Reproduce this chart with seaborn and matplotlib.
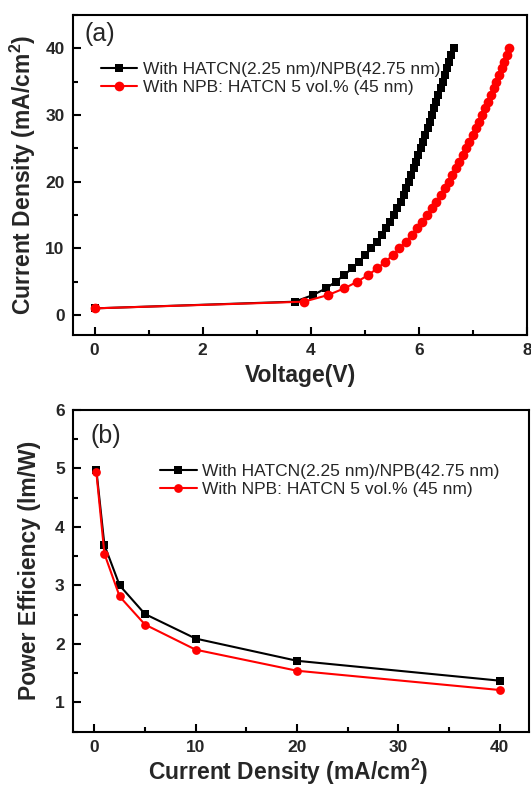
import matplotlib
matplotlib.use("Agg")
import matplotlib.pyplot as plt
import seaborn as sns
import numpy as np
import pandas as pd
from matplotlib.ticker import MultipleLocator

# ---------------- data ----------------
# (a) J-V curves: current density steps (mA/cm^2)
j_steps = list(range(1, 41))
v_hatcn_layer = [0.00, 3.70, 4.04, 4.28, 4.46, 4.62, 4.76, 4.89, 5.01, 5.12,
                 5.22, 5.31, 5.39, 5.465, 5.535, 5.60, 5.66, 5.715, 5.765, 5.81,
                 5.857, 5.903, 5.948, 5.992, 6.035, 6.077, 6.118, 6.159, 6.199, 6.239,
                 6.28, 6.32, 6.36, 6.40, 6.44, 6.48, 6.52, 6.56, 6.60, 6.64]
v_doped = [0.00, 3.87, 4.32, 4.62, 4.86, 5.06, 5.23, 5.38, 5.52, 5.64,
           5.755, 5.865, 5.965, 6.06, 6.15, 6.24, 6.325, 6.405, 6.48, 6.55,
           6.618, 6.684, 6.748, 6.811, 6.873, 6.934, 6.994, 7.053, 7.112, 7.17,
           7.225, 7.278, 7.33, 7.381, 7.431, 7.48, 7.528, 7.576, 7.623, 7.67]

# (b) power efficiency vs current density
j_pe = [0.2, 1, 2.5, 5, 10, 20, 40]
pe_hatcn_layer = [4.98, 3.69, 3.00, 2.51, 2.09, 1.71, 1.37]
pe_doped = [4.94, 3.54, 2.81, 2.33, 1.90, 1.54, 1.21]

label_layer = "With HATCN(2.25 nm)/NPB(42.75 nm)"
label_doped = "With NPB: HATCN 5 vol.% (45 nm)"

# ---------------- style ----------------
sns.set_theme(style="ticks")
plt.rcParams['font.family'] = ['Liberation Sans', 'DejaVu Sans']
plt.rcParams['mathtext.fontset'] = 'custom'
plt.rcParams['mathtext.bf'] = 'Liberation Sans:bold'
plt.rcParams['mathtext.rm'] = 'Liberation Sans'

fig = plt.figure(figsize=(5.31, 7.87), dpi=100)
ax1 = fig.add_axes([0.1375, 0.5743, 0.8550, 0.4066])
ax2 = fig.add_axes([0.1375, 0.0705, 0.8588, 0.4085])

def style_axes(ax):
    for s in ax.spines.values():
        s.set_linewidth(1.5)
        s.set_color('black')
    ax.tick_params(axis='both', which='both', direction='in', top=False, right=False,
                   width=1.5, color='black')
    ax.tick_params(axis='both', which='major', length=6, labelsize=12.5, pad=6)
    ax.tick_params(axis='both', which='minor', length=3.5)
    for lab in ax.get_xticklabels() + ax.get_yticklabels():
        lab.set_fontweight('bold')

# ---------------- (a) ----------------
sns.lineplot(x=v_hatcn_layer, y=j_steps, ax=ax1, color='black', marker='s',
             markersize=6, markeredgewidth=0, linewidth=1.5, sort=False,
             label=label_layer)
sns.lineplot(x=v_doped, y=j_steps, ax=ax1, color='red', marker='o',
             markersize=7, markeredgewidth=0, linewidth=1.5, sort=False,
             label=label_doped)
ax1.set_xlim(-0.4, 8.0)
ax1.set_ylim(-3, 45)
ax1.xaxis.set_major_locator(MultipleLocator(2))
ax1.xaxis.set_minor_locator(MultipleLocator(1))
ax1.yaxis.set_major_locator(MultipleLocator(10))
ax1.yaxis.set_minor_locator(MultipleLocator(5))
ax1.set_xlabel("Voltage(V)", fontsize=16.5, fontweight='bold', labelpad=4)
ax1.set_ylabel(r"Current Density (mA/cm$^{\mathbf{2}}$)", fontsize=16.5,
               fontweight='bold', labelpad=5)
ax1.text(0.025, 0.978, "(a)", transform=ax1.transAxes, fontsize=18,
         va='top', ha='left')
leg1 = ax1.legend(loc='upper left', bbox_to_anchor=(0.0617, 0.855), frameon=False,
                  fontsize=12.5, handlelength=2.1, handletextpad=0.3,
                  labelspacing=0.2, borderaxespad=0, borderpad=0)
style_axes(ax1)

# ---------------- (b) ----------------
sns.lineplot(x=j_pe, y=pe_hatcn_layer, ax=ax2, color='black', marker='s',
             markersize=5.5, markeredgewidth=0, linewidth=1.5, sort=False,
             label=label_layer)
sns.lineplot(x=j_pe, y=pe_doped, ax=ax2, color='red', marker='o',
             markersize=6.3, markeredgewidth=0, linewidth=1.5, sort=False,
             label=label_doped)
ax2.set_xlim(-2.1, 42.9)
ax2.set_ylim(0.5, 6)
ax2.xaxis.set_major_locator(MultipleLocator(10))
ax2.xaxis.set_minor_locator(MultipleLocator(5))
ax2.yaxis.set_major_locator(MultipleLocator(1))
ax2.yaxis.set_minor_locator(MultipleLocator(0.5))
ax2.set_xlabel(r"Current Density (mA/cm$^{\mathbf{2}}$)", fontsize=16.5,
               fontweight='bold')
ax2.xaxis.set_label_coords(0.4715, -0.078)
ax2.set_ylabel("Power Efficiency (lm/W)", fontsize=16.5, fontweight='bold',
               labelpad=10)
ax2.text(0.038, 0.955, "(b)", transform=ax2.transAxes, fontsize=18,
         va='top', ha='left')
leg2 = ax2.legend(loc='upper left', bbox_to_anchor=(0.191, 0.833), frameon=False,
                  fontsize=12.5, handlelength=2.1, handletextpad=0.3,
                  labelspacing=0.2, borderaxespad=0, borderpad=0)
style_axes(ax2)

fig.savefig("out.png", dpi=100)
